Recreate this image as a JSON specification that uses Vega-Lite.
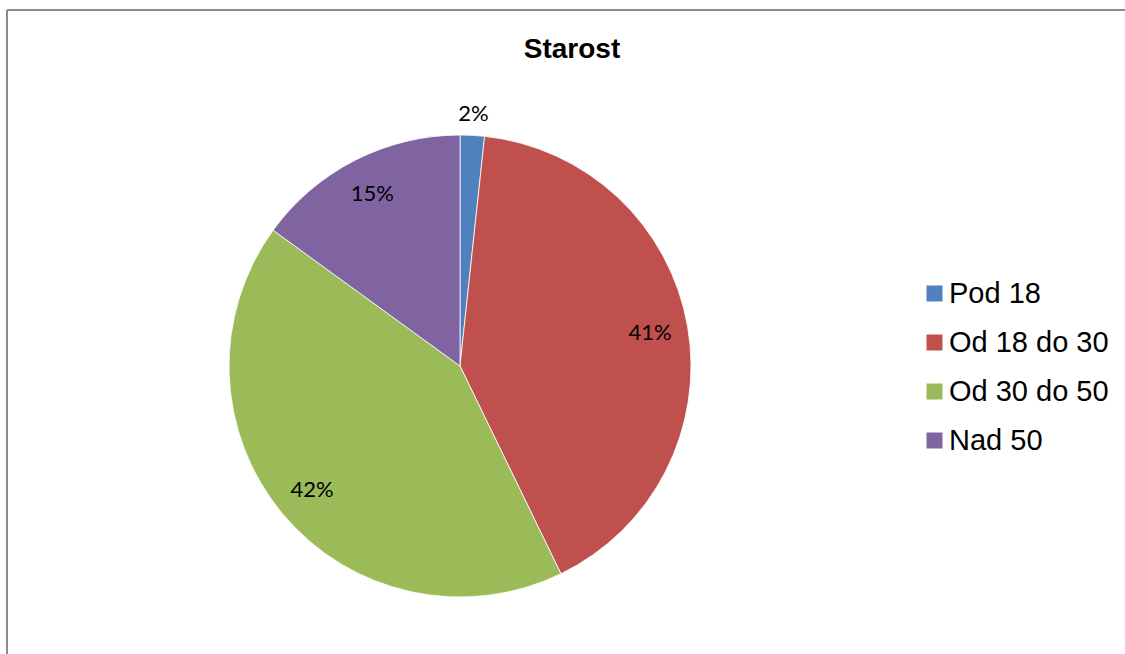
{
  "$schema": "https://vega.github.io/schema/vega-lite/v6.json",
  "autosize": {"type": "none"},
  "width": 1118,
  "height": 644,
  "padding": {"left": 7, "top": 10, "right": 0, "bottom": 0},
  "background": "white",
  "config": {"view": {"stroke": "#8c8c8c", "strokeWidth": 2, "strokeDash": [1118, 1762, 644, 0]}},
  "title": {
    "text": "Starost",
    "font": "Liberation Sans",
    "fontSize": 28,
    "fontWeight": "bold",
    "color": "black",
    "anchor": "middle",
    "frame": "group",
    "baseline": "alphabetic",
    "offset": -76,
    "dx": 6
  },
  "data": {
    "values": [
      {"i": 1, "kategorie": "Pod 18", "podil": 0.017},
      {"i": 2, "kategorie": "Od 18 do 30", "podil": 0.411},
      {"i": 3, "kategorie": "Od 30 do 50", "podil": 0.422},
      {"i": 4, "kategorie": "Nad 50", "podil": 0.150}
    ]
  },
  "encoding": {
    "theta": {"field": "podil", "type": "quantitative", "stack": true},
    "order": {"field": "i", "type": "quantitative"},
    "x": {"value": 453},
    "y": {"value": 356}
  },
  "layer": [
    {
      "mark": {"type": "arc", "outerRadius": 231, "stroke": "white", "strokeWidth": 0.8},
      "encoding": {
        "color": {
          "field": "kategorie",
          "type": "nominal",
          "sort": ["Pod 18", "Od 18 do 30", "Od 30 do 50", "Nad 50"],
          "scale": {
            "domain": ["Pod 18", "Od 18 do 30", "Od 30 do 50", "Nad 50"],
            "range": ["#4F81BD", "#C0504D", "#9BBB59", "#8064A2"]
          },
          "legend": {
            "title": null,
            "orient": "none",
            "legendX": 913,
            "legendY": 269,
            "symbolType": "square",
            "symbolSize": 256,
            "symbolStrokeWidth": 0,
            "labelFont": "Liberation Sans",
            "labelFontSize": 29,
            "labelColor": "black",
            "labelOffset": 0,
            "rowPadding": 19,
            "labelLimit": 300
          }
        }
      }
    },
    {
      "mark": {"type": "text", "font": "Lato", "fontSize": 22, "color": "black", "radius": 193},
      "encoding": {
        "text": {"field": "podil", "type": "quantitative", "format": ".0%"},
        "opacity": {"condition": {"test": "datum.podil >= 0.05", "value": 1}, "value": 0}
      }
    },
    {
      "mark": {"type": "text", "font": "Lato", "fontSize": 22, "color": "black", "radius": 252},
      "encoding": {
        "text": {"field": "podil", "type": "quantitative", "format": ".0%"},
        "opacity": {"condition": {"test": "datum.podil < 0.05", "value": 1}, "value": 0}
      }
    }
  ]
}
